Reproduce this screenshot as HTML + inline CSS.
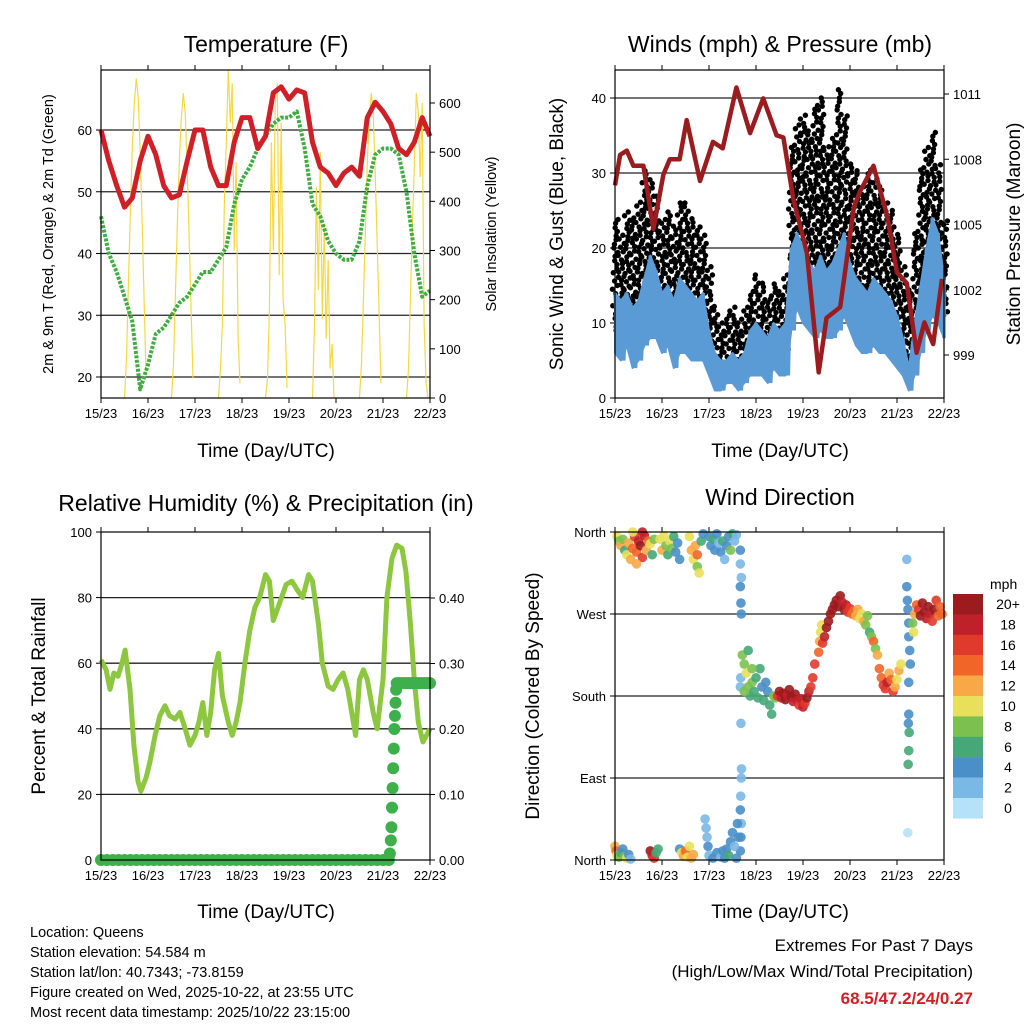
<!DOCTYPE html>
<html><head><meta charset="utf-8"><style>
html,body{margin:0;padding:0;background:#fff;}
svg{display:block;font-family:"Liberation Sans",sans-serif;}
</style></head><body>
<svg id="fig" width="1024" height="1024" viewBox="0 0 1024 1024">
<rect width="1024" height="1024" fill="#fff"/>
<text x="266" y="52" font-size="23" text-anchor="middle">Temperature (F)</text>
<text x="780" y="52" font-size="23" text-anchor="middle">Winds (mph) &amp; Pressure (mb)</text>
<text x="266" y="511" font-size="23" text-anchor="middle">Relative Humidity (%) &amp; Precipitation (in)</text>
<text x="780" y="505" font-size="23" text-anchor="middle">Wind Direction</text>
<text x="266" y="457" font-size="19" text-anchor="middle">Time (Day/UTC)</text>
<text x="780" y="457" font-size="19" text-anchor="middle">Time (Day/UTC)</text>
<text x="266" y="918" font-size="19" text-anchor="middle">Time (Day/UTC)</text>
<text x="780" y="918" font-size="19" text-anchor="middle">Time (Day/UTC)</text>
<text transform="translate(53,234) rotate(-90)" font-size="14.5" text-anchor="middle">2m &amp; 9m T (Red, Orange) &amp; 2m Td (Green)</text>
<text transform="translate(496,234) rotate(-90)" font-size="14.5" text-anchor="middle">Solar Insolation (Yellow)</text>
<text transform="translate(563,234) rotate(-90)" font-size="19" text-anchor="middle">Sonic Wind &amp; Gust (Blue, Black)</text>
<text transform="translate(1020,234) rotate(-90)" font-size="19" text-anchor="middle">Station Pressure (Maroon)</text>
<text transform="translate(45,696) rotate(-90)" font-size="19" text-anchor="middle">Percent &amp; Total Rainfall</text>
<text transform="translate(539,696) rotate(-90)" font-size="19" text-anchor="middle">Direction (Colored By Speed)</text>
<g font-size="14.5">
<text x="30" y="937">Location: Queens</text>
<text x="30" y="957">Station elevation: 54.584 m</text>
<text x="30" y="977">Station lat/lon: 40.7343; -73.8159</text>
<text x="30" y="997">Figure created on Wed, 2025-10-22, at 23:55 UTC</text>
<text x="30" y="1017">Most recent data timestamp: 2025/10/22 23:15:00</text>
</g>
<text x="973" y="951" font-size="17" text-anchor="end">Extremes For Past 7 Days</text>
<text x="973" y="977" font-size="17" text-anchor="end">(High/Low/Max Wind/Total Precipitation)</text>
<text x="973" y="1004" font-size="17" font-weight="bold" fill="#d02027" text-anchor="end">68.5/47.2/24/0.27</text>
</svg>
<script>
// ---- data ----
const dayLabels = ["15/23","16/23","17/23","18/23","19/23","20/23","21/23","22/23"];
const tempHours = [0,4,8,12,16,20,24,28,32,36,40,44,48,52,56,60,64,68,72,76,80,84,88,92,96,100,104,108,112,116,120,124,128,132,136,140,144,148,152,156,160,164,168];
const tempVals = [60,55,51,47.5,49,55,59,56,51,49,49.5,55,60,60,54,51,51,58,62,62,57,59,66,67,65,66.5,66,58,54,53,51,53,54,52.5,62,64.5,63,61,57,56,58,62,59];
const dewVals = [46,40,37,33,29,18,22,27,28,30,32,33,35,37,37,39,41,48,52,54,57,59,61,62,62,63,57,48,46,42,40,39,39,42,51,56,57,57,56,50,40,33,34];
const solarDay0 = [0,80,230,380,510,600,650,610,500,360,200,50];
const solarDay1 = [0,70,210,360,480,570,620,580,470,330,180,40];
const solarDay2 = [0,60,150,400,520,668,560,640,300,480,120,30];
const solarDay3 = [0,40,180,520,300,600,640,250,560,200,150,20];
const solarDay4 = [0,150,430,220,500,160,350,120,280,60,110,0];
const solarDay5 = [0,70,200,340,480,570,620,580,460,320,170,30];
const solarDay6 = [0,60,200,350,470,620,580,450,600,150,30,0];
const tempTicks = [20,30,40,50,60];
const solarTicks = [0,100,200,300,400,500,600];

const windHours = [0,3,6,9,12,15,18,21,24,27,30,33,36,39,42,45,48,51,54,57,60,63,66,69,72,75,78,81,84,87,90,93,96,99,102,105,108,111,114,117,120,123,126,129,132,135,138,141,144,147,150,153,156,159,162,165,168];
const windHi = [14,13,14,12,13,16,19,17,14,15,13,16,15,14,13,14,9,6,5,5,6,5,6,9,10,9,8,10,9,10,20,22,20,18,17,19,17,18,20,22,18,16,15,14,16,15,14,13,11,8,4,10,15,20,24,22,16];
const windLo = [6,5,7,4,5,7,8,8,6,7,4,6,6,5,5,5,3,1,1,2,2,1,2,3,3,3,2,4,3,3,9,12,10,9,8,9,8,8,9,11,9,7,6,6,7,6,6,5,4,3,1,3,6,9,11,10,8];
const gustHi = [24,22,25,24,26,30,29,27,24,25,23,26,26,24,23,22,18,12,10,11,12,10,12,14,16,15,13,15,14,16,33,37,38,36,39,40,34,35,41,38,31,30,28,30,29,28,26,25,22,18,14,22,30,34,35,31,24];
const presHours = [0,2.6,6,9.4,14.5,19.6,24.7,28,33,36.6,43.4,50,55,62,69,75.7,82.5,86,91,98,104,108,115,122,125,132,139,144,149,154,158,162.5,167];
const presVals = [1006.8,1008.2,1008.4,1007.7,1007.7,1004.8,1007.3,1008,1008,1009.8,1007,1008.8,1008.5,1011.3,1009.2,1010.8,1009.1,1009,1006.2,1003.7,998.2,1000.7,1001.2,1005.8,1006.5,1007.7,1005.4,1002.8,1002.3,999.1,1000.5,999.5,1002.5];
const windTicks = [0,10,20,30,40];
const presTicks = [999,1002,1005,1008,1011];

const rhHours = [0,2.6,4.6,6.6,8.7,10.7,12.3,14.8,16.8,18.9,20.4,23,25,27.6,30,32.7,35,37.8,40.3,43,45.4,48,50,52,54,56,58,60,62,65,67,69,71,73.5,76,78.6,81,84,86,88,91,94.5,97.5,100.6,103,106,108,111,113,116,118.5,121,123.6,126,128,130,132,134,136,139,141,144,146,148.6,151,153.7,155.7,158,160,162,164.4,168];
const rhVals = [61,58,52,57,56,60,64,52,35,24,21,25,30,38,44,47,44,43,45,40,35,38,42,48,38,45,58,63,50,42,38,42,48,60,70,77,80,87,85,73,78,84,85,82,80,87,85,72,60,53,52,55,57,52,45,38,55,58,55,45,40,55,80,92,96,95,88,72,55,42,36,40];
const precipHours = [0,3,6,9,12,15,18,21,24,27,30,33,36,39,42,45,48,51,54,57,60,63,66,69,72,75,78,81,84,87,90,93,96,99,102,105,108,111,114,117,120,123,126,129,132,135,138,141,144,147,147.5,148,148.3,148.6,148.9,149.2,149.5,149.8,150.1,150.4,150.7,151,152,153,154,155,156,157,158,159,160,161,162,163,164,165,166,167,168];
const precipVals = [0,0,0,0,0,0,0,0,0,0,0,0,0,0,0,0,0,0,0,0,0,0,0,0,0,0,0,0,0,0,0,0,0,0,0,0,0,0,0,0,0,0,0,0,0,0,0,0,0,0,0.01,0.03,0.05,0.08,0.11,0.14,0.17,0.2,0.22,0.24,0.26,0.27,0.27,0.27,0.27,0.27,0.27,0.27,0.27,0.27,0.27,0.27,0.27,0.27,0.27,0.27,0.27,0.27,0.27];
const rhTicks = [0,20,40,60,80,100];
const precipTicks = ["0.00","0.10","0.20","0.30","0.40"];

const dirHours = [1,2,3,4,5,6,7,8,9,10,11,12,13,14,15,16,17,18,19,20,11,9,14,
23,24,25,26,27,28,29,30,31,32,33,
38,39,40,41,42,43,44,45,42,
48,49,50,51,52,53,54,55,56,57,58,59,60,61,62,
64,64,64.5,64,64.3,64.5,64.2,64,64.3,64.6,64.5,64.2,64,64.5,64.3,64,
0,0.5,1,2,3,4,5,6,7,8,18,19,20,21,22,33,34,35,36,37,38,39,40,46,46.5,47,47.5,48,50,52,54,55,56,57,58,59,60,61,62,63,62.5,
65,66,67,68,69,70,71,72,73,74,75,76,77,78,79,80,81,82,66,70,68,
83,84,85,86,87,88,89,90,91,92,93,94,95,96,97,98,99,100,101,102,
104,104.5,105,105.5,106,107,108,109,110,111,112,113,114,115,116,117,
118,119,120,121,122,123,124,125,126,127,128,129,130,131,132,133,134,
135,136,137,138,139,140,141,142,143,144,145,146,
149,149,149.3,149.6,150,150,150.5,150.8,150,150,149.8,150.2,150,149.7,149.5,
152,152.5,153,154,155,156,157,158,159,160,161,162,163,164,165,166,167];
const dirDegs = [355,350,345,352,340,335,348,330,342,355,338,350,345,332,356,340,350,347,335,352,325,360,360,
352,340,356,345,335,350,342,355,338,348,330,
355,340,330,345,322,315,350,358,335,
355,345,352,340,358,348,338,350,330,345,355,340,358,350,357,
340,325,310,300,282,270,200,190,150,100,90,70,55,40,25,10,
15,10,5,3,8,12,4,2,6,1,10,5,2,8,12,12,8,4,10,3,15,2,6,45,35,25,15,5,2,8,3,10,2,12,5,20,30,15,2,25,40,
225,215,205,190,180,195,185,200,178,210,190,175,195,185,170,160,180,178,185,210,230,
180,185,178,183,176,181,187,179,174,182,175,170,177,168,172,178,185,190,200,215,
228,240,250,258,238,245,255,262,270,275,280,285,278,290,283,275,
280,272,276,270,273,268,275,265,270,262,258,268,250,245,240,232,225,
210,200,192,188,195,205,198,185,190,198,208,215,
330,300,285,275,260,245,230,215,195,160,150,140,120,105,30,
260,250,270,280,275,268,282,272,265,278,270,262,275,285,268,278,270];
const dirSpeeds = [10,8,12,9,7,11,13,12,14,16,15,18,20,17,19,12,14,10,6,9,13,10,18,
11,12,10,9,7,11,8,6,5,4,4,
10,12,11,13,8,10,6,5,14,
5,4,6,4,5,3,4,6,3,5,4,8,6,3,2,
4,2,3,4,4,4,2,2,2,2,3,3,4,3,4,5,
12,14,10,8,6,5,9,11,4,3,20,18,16,7,6,5,10,12,14,11,10,12,13,2,2,2,4,3,4,4,3,4,5,4,6,4,4,3,5,4,4,
8,8,10,8,7,9,7,6,6,7,4,6,4,5,6,6,8,9,9,9,7,
17,20,19,21,20,18,20,21,19,20,18,17,18,19,16,20,18,17,16,16,
14,12,10,11,16,18,20,20,21,20,22,21,20,22,19,20,
18,17,16,15,14,12,13,10,11,12,9,8,7,9,14,8,12,
14,15,16,17,18,13,14,16,12,11,12,10,
3,4,4,4,5,4,4,4,4,5,4,6,6,6,1,
8,10,12,15,16,20,20,21,19,20,18,17,20,16,15,14,15];
const speedLabels = ["20+","18","16","14","12","10","8","6","4","2","0"];
const speedColors = ["#9b1b1e","#c0202a","#e03a2d","#f26529","#f8a847","#e8e05a","#7cc150","#46a878","#4a8fc8","#7ab8e6","#b5e2f8"];

// ---- helpers ----
const NS = "http://www.w3.org/2000/svg";
const svg = document.getElementById("fig");
function mk(tag, attrs, parent) {
  const e = document.createElementNS(NS, tag);
  for (const k in attrs) e.setAttribute(k, attrs[k]);
  (parent || svg).appendChild(e);
  return e;
}
function lin(d0, d1, r0, r1) { return v => r0 + (v - d0) * (r1 - r0) / (d1 - d0); }
const TOP = 70, BOT = 398, TOP2 = 532, BOT2 = 860;
const xL = lin(0, 168, 101, 430), xR = lin(0, 168, 615, 944);

function frame(x0, y0, x1, y1, xs, name) {
  const g = mk("g", {});
  
  
  dayLabels.forEach((lab, i) => {
    const x = xs(i * 24);
    mk("line", {x1: x, x2: x, y1: y1, y2: y1 + 5, stroke: "#000"}, g);
    mk("line", {x1: x, x2: x, y1: y0, y2: y0 - 5, stroke: "#000"}, g);
    const t = mk("text", {x: x, y: y1 + 20, "font-size": 13, "text-anchor": "middle"}, g);
    
    
    t.textContent = lab;
  });
  return g;
}
function box(x0, y0, x1, y1, name) {
  const r = mk("rect", {x: x0, y: y0, width: x1 - x0, height: y1 - y0, fill: "none", stroke: "#000", "stroke-width": 1.2});
  
  
}
function hgrid(y, x0, x1) {
  const l = mk("line", {x1: x0, x2: x1, y1: y, y2: y, stroke: "#222", "stroke-width": 1.3});
  
  
}
function ytick(x, y, label, side) {
  mk("line", {x1: x, x2: side < 0 ? x - 5 : x + 5, y1: y, y2: y, stroke: "#000"});
  const t = mk("text", {x: side < 0 ? x - 9 : x + 9, y: y + 5, "font-size": 13, "text-anchor": side < 0 ? "end" : "start"});
  
  
  t.textContent = label;
}
function pathOf(xsArr, ysArr, xs, ys) {
  return xsArr.map((h, i) => (i ? "L" : "M") + xs(h).toFixed(1) + "," + ys(ysArr[i]).toFixed(1)).join("");
}

// ---- Temperature panel ----
const yT = lin(20, 60, 377, 130), yS = lin(0, 600, 398, 103);
frame(101, TOP, 430, BOT, xL, "temperature");
tempTicks.forEach(v => { hgrid(yT(v), 101, 430); ytick(101, yT(v), v, -1); });
solarTicks.forEach(v => ytick(430, yS(v), v, 1));
const solarDays = [solarDay0, solarDay1, solarDay2, solarDay3, solarDay4, solarDay5, solarDay6];
solarDays.forEach((arr, d) => {
  const hrs = arr.map((v, i) => 12 + 24 * d + i);
  const p = mk("path", {d: pathOf(hrs, arr, xL, yS), fill: "none", stroke: "#f6d843", "stroke-width": 1.2});
  
  
});
const dewP = mk("path", {d: pathOf(tempHours, dewVals, xL, yT), fill: "none", stroke: "#41ad41", "stroke-width": 4, "stroke-dasharray": "3 1.5", "stroke-linejoin": "round"});


const tP = mk("path", {d: pathOf(tempHours, tempVals, xL, yT), fill: "none", stroke: "#d02027", "stroke-width": 5, "stroke-linejoin": "round"});


box(101, TOP, 430, BOT, "temperature");

// ---- Wind panel ----
const yW = lin(0, 40, 398, 98), yP = lin(999, 1011, 355, 94);
frame(615, TOP, 944, BOT, xR, "wind");
windTicks.forEach(v => { if (v > 0) hgrid(yW(v), 615, 944); ytick(615, yW(v), v, -1); });
presTicks.forEach(v => ytick(944, yP(v), v, 1));
const gustG = mk("g", {fill: "#000"});


const jit = [-2.6, 1.1, -0.4, 2.4, -1.7, 0.6, 2.0, -2.2, 0.1, 1.6, -1.1];
windHours.forEach((h, i) => {
  const top = gustHi[i], bot = windLo[i] + 3;
  let k = i;
  for (let v = bot; v <= top; v += 1.1) {
    k++;
    mk("circle", {cx: xR(h) + jit[k % jit.length], cy: yW(v), r: 2.7}, gustG);
    k++;
    mk("circle", {cx: xR(h) + jit[k % jit.length] * 0.8 + 1.5, cy: yW(v + 0.5), r: 2.7}, gustG);
  }
});
const bandPts = windHours.map((h, i) => xR(h).toFixed(1) + "," + yW(windHi[i]).toFixed(1)).join(" ") + " " +
  windHours.slice().reverse().map((h, j) => { const i = windHours.length - 1 - j; return xR(h).toFixed(1) + "," + yW(windLo[i]).toFixed(1); }).join(" ");
const band = mk("polygon", {points: bandPts, fill: "#5b9bd5", stroke: "#5b9bd5", "stroke-width": 2, "stroke-linejoin": "round"});


const zig = windHours.map((h, i) => {
  const a = xR(h).toFixed(1) + "," + yW(windHi[i]).toFixed(1);
  const nx = i < windHours.length - 1 ? (xR(h) + xR(windHours[i + 1])) / 2 : xR(h);
  const b = nx.toFixed(1) + "," + yW(windLo[i]).toFixed(1);
  return a + " " + b;
}).join(" ");
const zigL = mk("polyline", {points: zig, fill: "none", stroke: "#5b9bd5", "stroke-width": 3.5});


const presP = mk("path", {d: pathOf(presHours, presVals, xR, yP), fill: "none", stroke: "#9b1c1f", "stroke-width": 4.5, "stroke-linejoin": "round"});


box(615, TOP, 944, BOT, "wind");

// ---- RH panel ----
const yRH = lin(0, 100, 860, 532), yPr = lin(0, 0.4, 860, 598);
frame(101, TOP2, 430, BOT2, xL, "rh");
rhTicks.forEach(v => { if (v > 0 && v < 100) hgrid(yRH(v), 101, 430); ytick(101, yRH(v), v, -1); });
precipTicks.forEach(s => ytick(430, yPr(parseFloat(s)), s, 1));
const rhP = mk("path", {d: pathOf(rhHours, rhVals, xL, yRH), fill: "none", stroke: "#8dc63f", "stroke-width": 5, "stroke-linejoin": "round"});


const prG = mk("g", {fill: "#3db04a"});


precipHours.forEach((h, i) => {
  mk("circle", {cx: xL(h), cy: yPr(precipVals[i]), r: 6}, prG);
});
box(101, TOP2, 430, BOT2, "rh");

// ---- Direction panel ----
const yD = lin(0, 360, 860, 532);
frame(615, TOP2, 944, BOT2, xR, "direction");
const dirLabs = ["North", "East", "South", "West", "North"];
[0, 90, 180, 270, 360].forEach((v, i) => { if (v > 0 && v < 360) hgrid(yD(v), 615, 944); ytick(615, yD(v), dirLabs[i], -1); });
const dG = mk("g", {"fill-opacity": 0.9});


dirHours.forEach((h, i) => {
  const s = dirSpeeds[i];
  const idx = Math.max(0, Math.min(10, 10 - Math.floor(s / 2)));
  mk("circle", {cx: xR(h), cy: yD(dirDegs[i]), r: 4.8, fill: speedColors[idx]}, dG);
});
box(615, TOP2, 944, BOT2, "direction");

// colorbar
const cb = mk("g", {});


const cbT = mk("text", {x: 990, y: 589, "font-size": 14}, cb);


cbT.textContent = "mph";
speedLabels.forEach((lab, i) => {
  const y = 594 + i * 20.4;
  mk("rect", {x: 953, y: y, width: 30, height: 20.6, fill: speedColors[i]}, cb);
  const t = mk("text", {x: 1008, y: y + 15, "font-size": 14, "text-anchor": "middle"}, cb);
  
  
  t.textContent = lab;
});
</script>
</body></html>
